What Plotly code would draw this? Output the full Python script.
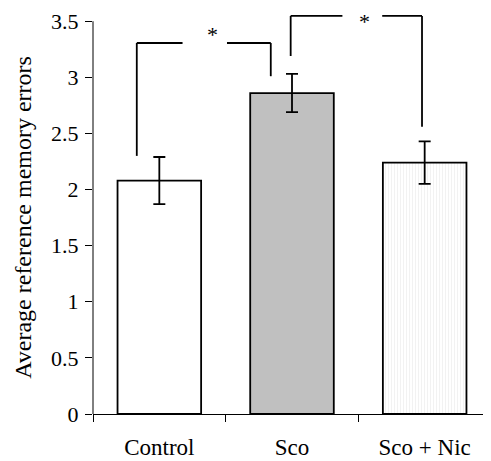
import plotly.graph_objects as go

categories = ["Control", "Sco", "Sco + Nic"]
means = [2.08, 2.86, 2.24]
errors = [0.21, 0.17, 0.19]
bar_colors = ["#ffffff", "#c0c0c0", "#f2f2f2"]
y_ticks = [0, 0.5, 1, 1.5, 2, 2.5, 3, 3.5]
y_title = "Average reference memory errors"

# significance brackets: (left x, right x, left foot, right foot, top)
brackets = [
    (-0.17, 0.84, 2.30, 3.01, 3.306),
    (0.99, 1.98, 3.19, 2.56, 3.547),
]
gaps = [(0.175, 0.51), (1.38, 1.68)]
star_pos = [(0.40, 3.38), (1.55, 3.50)]

FONT = "Liberation Serif, Times New Roman, serif"

fig = go.Figure()
fig.add_trace(go.Bar(
    x=categories, y=means, width=0.63,
    marker=dict(
        color=bar_colors,
        line=dict(color="black", width=1.8),
        pattern=dict(shape=["", "", "|"], fgcolor="#e4e4e4", bgcolor="#f3f3f3",
                     size=3, solidity=0.35, fillmode="replace"),
    ),
    error_y=dict(type="data", array=errors, color="black", thickness=1.8, width=6),
    showlegend=False,
))

shapes = []
for (xl, xr, fl, fr, top), (g0, g1) in zip(brackets, gaps):
    line = dict(color="black", width=1.8)
    shapes.append(dict(type="line", xref="x", yref="y", x0=xl, x1=xl, y0=fl, y1=top, line=line))
    shapes.append(dict(type="line", xref="x", yref="y", x0=xl, x1=g0, y0=top, y1=top, line=line))
    shapes.append(dict(type="line", xref="x", yref="y", x0=g1, x1=xr, y0=top, y1=top, line=line))
    shapes.append(dict(type="line", xref="x", yref="y", x0=xr, x1=xr, y0=top, y1=fr, line=line))
# y axis line from 0 to 3.5
shapes.append(dict(type="line", xref="paper", yref="y", x0=0, x1=0, y0=0, y1=y_ticks[-1],
                   line=dict(color="black", width=1)))

annotations = [dict(x=sx, y=sy, xref="x", yref="y", text="*", showarrow=False,
                    font=dict(family=FONT, size=22, color="black"))
               for sx, sy in star_pos]
# y-axis title centred on the 0..3.5 axis span
annotations.append(dict(x=-0.178, y=y_ticks[-1] / 2, xref="paper", yref="y", text=y_title,
                        textangle=-90, showarrow=False, xanchor="center", yanchor="middle",
                        borderpad=0,
                        font=dict(family=FONT, size=24, color="black")))

fig.update_layout(
    width=483, height=453,
    margin=dict(l=85, r=0, t=2, b=47),
    paper_bgcolor="white", plot_bgcolor="white",
    font=dict(family=FONT, color="black"),
    shapes=shapes, annotations=annotations,
)
fig.update_xaxes(
    type="category", range=[-0.5, 2.5], tickson="boundaries", automargin=False,
    showline=True, linecolor="black", linewidth=1,
    ticks="outside", ticklen=7, tickcolor="black", tickwidth=1,
    tickfont=dict(family=FONT, size=23, color="black"), ticklabelstandoff=12,
    showgrid=False, zeroline=False,
)
fig.update_yaxes(
    range=[0, 3.6], tickvals=y_ticks, ticktext=[f"{v:g}" for v in y_ticks],
    automargin=False,
    showline=False, ticks="outside", ticklen=7, tickcolor="black", tickwidth=1,
    tickfont=dict(family=FONT, size=22, color="black"), ticklabelstandoff=2,
    showgrid=False, zeroline=False,
)

fig.write_html("out.html")
